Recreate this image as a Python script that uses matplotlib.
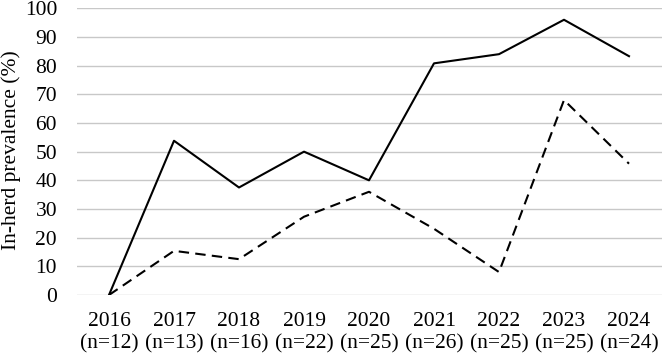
import matplotlib.pyplot as plt

# in-herd prevalence by year, two series (solid / dashed)
years = ['2016\n(n=12)', '2017\n(n=13)', '2018\n(n=16)', '2019\n(n=22)', '2020\n(n=25)',
         '2021\n(n=26)', '2022\n(n=25)', '2023\n(n=25)', '2024\n(n=24)']
solid_vals = [0, 53.8, 37.5, 50.0, 40.0, 80.8, 84.0, 96.0, 83.3]
dashed_vals = [0, 15.4, 12.5, 27.3, 36.0, 23.1, 8.0, 68.0, 45.8]

plt.rcParams['font.family'] = ['Liberation Serif', 'DejaVu Serif']

fig = plt.figure(figsize=(6.62, 3.57), dpi=100)
ax = fig.add_axes([76.5/662, 1 - 295/357, 585/662, (295 - 8.3)/357])

X = list(range(len(years)))
ax.plot(X, solid_vals, color='black', lw=1.5)
ax.plot(X, dashed_vals, color='black', lw=1.5, ls='--', dashes=(5, 3))

ax.set_xlim(-0.5, 8.5)
ax.set_ylim(0, 100)
ax.set_yticks(range(0, 101, 10))
ax.set_xticks(X)
ax.set_xticklabels(years, linespacing=1.25)
ax.tick_params(axis='both', length=0, labelsize=15.5)
ax.tick_params(axis='y', pad=14)
ax.tick_params(axis='x', pad=12)
ax.grid(axis='y', color='#c8c8c8', lw=1)
ax.set_axisbelow(True)
for s in ax.spines.values():
    s.set_visible(False)
fig.text(11/662, 1 - 150/357, 'In-herd prevalence (%)', fontsize=15.5,
         rotation=90, ha='center', va='center')

fig.savefig('out.png', dpi=100)
